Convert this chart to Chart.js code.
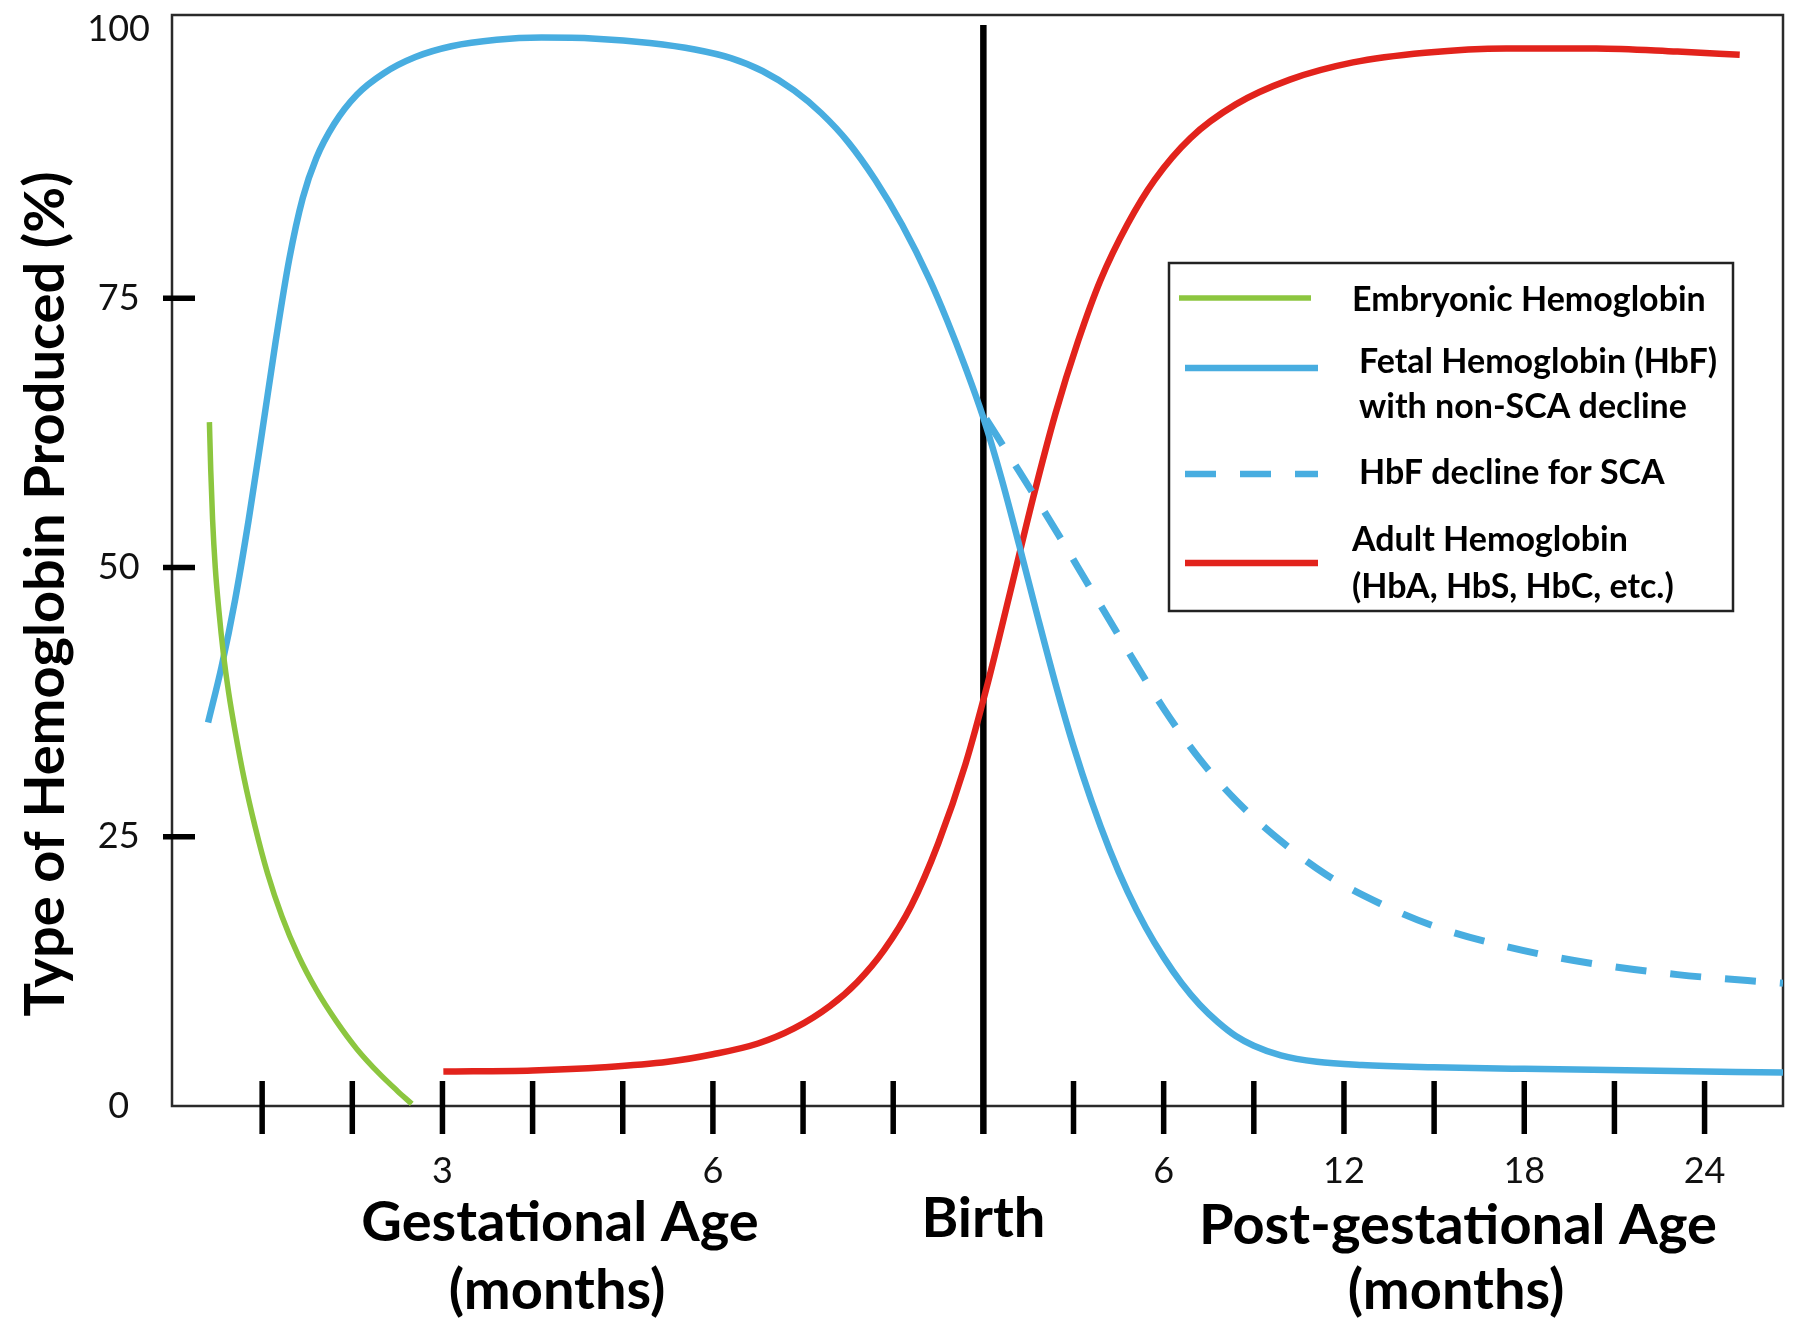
<!DOCTYPE html>
<html>
<head>
<meta charset="utf-8">
<script src="https://cdn.jsdelivr.net/npm/chart.js@4.4.1/dist/chart.umd.min.js"></script>
<style>
  html, body { margin: 0; padding: 0; background: #ffffff; }
  #wrap { position: relative; width: 1800px; height: 1330px; }
</style>
</head>
<body>
<div id="wrap"><canvas id="c" width="1800" height="1330"></canvas></div>
<script>
// Horizontal position on the timeline: 0–9 = gestational months (9 = birth);
// after birth, each unit = 3 months of post-gestational age.
const embryonicPos = [0.415, 0.43, 0.45, 0.48, 0.52, 0.57, 0.63, 0.70, 0.80, 0.92, 1.06, 1.22, 1.40, 1.60, 1.82, 2.05, 2.30, 2.50, 2.66];
const embryonicPct = [63.5, 59.0, 54.5, 50.0, 46.0, 42.0, 38.3, 34.8, 30.4, 26.0, 21.6, 17.6, 14.0, 10.8, 7.9, 5.3, 3.0, 1.4, 0.2];

const fetalPos = [0.40, 0.55, 0.70, 0.85, 1.00, 1.15, 1.30, 1.45, 1.60, 1.80, 2.05, 2.35, 2.70, 3.10, 3.60, 4.10, 4.70, 5.30, 5.80, 6.20, 6.55, 6.90, 7.20, 7.50, 7.80, 8.10, 8.40, 8.60, 8.80, 9.00, 9.20, 9.40, 9.60, 9.80, 10.00, 10.20, 10.40, 10.60, 10.80, 11.00, 11.20, 11.40, 11.60, 11.80, 12.00, 12.30, 12.70, 13.20, 14.00, 15.00, 16.30, 17.87];
const fetalPct = [35.6, 40.8, 47.0, 54.4, 62.6, 71.0, 78.6, 84.3, 88.0, 91.2, 93.9, 95.9, 97.4, 98.4, 99.0, 99.2, 99.1, 98.7, 98.1, 97.3, 96.1, 94.3, 92.2, 89.5, 86.0, 81.8, 76.8, 72.9, 68.6, 63.9, 58.3, 52.0, 45.5, 39.2, 33.4, 28.3, 23.8, 19.9, 16.6, 13.8, 11.4, 9.4, 7.8, 6.5, 5.6, 4.7, 4.1, 3.8, 3.6, 3.45, 3.3, 3.1];

const scaPos = [9.03, 9.40, 9.80, 10.20, 10.60, 11.00, 11.40, 11.80, 12.30, 12.80, 13.40, 14.00, 14.80, 15.70, 16.70, 17.87];
const scaPct = [63.8, 58.9, 53.5, 47.9, 42.3, 36.9, 32.2, 28.4, 24.6, 21.5, 18.8, 16.7, 14.8, 13.3, 12.2, 11.4];

const adultPos = [3.01, 4.00, 4.80, 5.50, 6.00, 6.50, 6.90, 7.30, 7.60, 7.90, 8.20, 8.50, 8.80, 9.05, 9.30, 9.55, 9.80, 10.05, 10.30, 10.60, 10.90, 11.30, 11.80, 12.40, 13.10, 13.90, 14.80, 15.80, 16.70, 17.39];
const adultPct = [3.2, 3.3, 3.6, 4.1, 4.8, 5.8, 7.2, 9.3, 11.5, 14.5, 18.6, 24.4, 31.7, 39.3, 47.8, 56.4, 64.3, 71.0, 76.7, 81.9, 86.0, 89.9, 93.0, 95.3, 96.9, 97.8, 98.2, 98.2, 97.9, 97.6];

const seriesLabels = ['Embryonic Hemoglobin', 'Fetal Hemoglobin (HbF)\nwith non-SCA decline', 'HbF decline for SCA', 'Adult Hemoglobin\n(HbA, HbS, HbC, etc.)'];

const xTickValues = [3, 6, 11, 13, 15, 17];
const xTickLabels = ['3', '6', '6', '12', '18', '24'];
const xTickMarks = [1, 2, 3, 4, 5, 6, 7, 8, 10, 11, 12, 13, 14, 15, 16, 17];
const birthPos = 9;
const yTickValues = [0, 25, 50, 75, 100];
const yTickMarks = [25, 50, 75];

const axisTitleY = 'Type of Hemoglobin Produced (%)';
const gestTitle = ['Gestational Age', '(months)'];
const birthTitle = 'Birth';
const postTitle = ['Post-gestational Age', '(months)'];

const GREEN = '#8cc63f', BLUE = '#48ade0', RED = '#e2231c';

function pts(xs, ys) { return xs.map((v, i) => ({ x: v, y: ys[i] })); }

const decor = {
  id: 'decor',
  beforeDatasetsDraw(chart) {
    const { ctx, chartArea: a, scales: { x, y } } = chart;
    ctx.save();
    ctx.strokeStyle = '#2a2a2a';
    ctx.lineWidth = 2.5;
    ctx.strokeRect(a.left, a.top, a.right - a.left, a.bottom - a.top);
    ctx.strokeStyle = '#000';
    ctx.lineCap = 'butt';
    ctx.lineWidth = 5.5;
    xTickMarks.forEach(v => {
      const px = x.getPixelForValue(v);
      ctx.beginPath(); ctx.moveTo(px, a.bottom - 25); ctx.lineTo(px, a.bottom + 28); ctx.stroke();
    });
    yTickMarks.forEach(v => {
      const py = y.getPixelForValue(v);
      ctx.beginPath(); ctx.moveTo(a.left - 9, py); ctx.lineTo(a.left + 23, py); ctx.stroke();
    });
    const bx = x.getPixelForValue(birthPos);
    ctx.lineWidth = 6.5;
    ctx.beginPath(); ctx.moveTo(bx, a.top + 10); ctx.lineTo(bx, a.bottom + 28); ctx.stroke();
    ctx.restore();
  },
  afterDraw(chart) {
    const { ctx, scales: { x } } = chart;
    ctx.save();
    ctx.fillStyle = '#000';
    // y axis title
    ctx.font = 'bold 56px Lato';
    ctx.textAlign = 'center';
    ctx.textBaseline = 'alphabetic';
    ctx.save();
    ctx.translate(64, 594);
    ctx.rotate(-Math.PI / 2);
    ctx.fillText(axisTitleY, 0, 0);
    ctx.restore();
    // x axis titles
    ctx.font = 'bold 56px Lato';
    ctx.fillText(gestTitle[0], 560, 1241);
    ctx.fillText(gestTitle[1], 557, 1309);
    ctx.fillText(birthTitle, x.getPixelForValue(birthPos), 1237);
    ctx.fillText(postTitle[0], 1458, 1244);
    ctx.fillText(postTitle[1], 1456, 1309);

    // legend
    const box = { l: 1169, t: 263, r: 1733, b: 611 };
    ctx.fillStyle = '#fff';
    ctx.fillRect(box.l, box.t, box.r - box.l, box.b - box.t);
    ctx.strokeStyle = '#222';
    ctx.lineWidth = 2.5;
    ctx.strokeRect(box.l, box.t, box.r - box.l, box.b - box.t);
    const ds = chart.data.datasets;
    const rows = [
      { line: [1179, 1311, 298], text: [1352, [300]] },
      { line: [1185, 1318, 368], text: [1359, [362, 407]] },
      { line: [1185, 1318, 474], text: [1359, [473]] },
      { line: [1185, 1318, 563], text: [1352, [540, 587]] }
    ];
    rows.forEach((r, i) => {
      const d = ds[i];
      ctx.save();
      ctx.strokeStyle = d.borderColor;
      ctx.lineWidth = i === 0 ? 5.5 : 6.5;
      ctx.setLineDash(d.borderDash || []);
      ctx.beginPath(); ctx.moveTo(r.line[0], r.line[2]); ctx.lineTo(r.line[1], r.line[2]); ctx.stroke();
      ctx.restore();
      ctx.fillStyle = '#000';
      ctx.font = 'bold 34px Lato';
      ctx.textAlign = 'left';
      ctx.textBaseline = 'middle';
      const lines = d.label.split('\n');
      lines.forEach((t, j) => ctx.fillText(t, r.text[0], r.text[1][j]));
    });
    ctx.restore();
  }
};

function make() {
  new Chart(document.getElementById('c'), {
    type: 'line',
    data: {
      datasets: [
        { label: seriesLabels[0], data: pts(embryonicPos, embryonicPct), borderColor: GREEN, borderWidth: 5.5 },
        { label: seriesLabels[1], data: pts(fetalPos, fetalPct), borderColor: BLUE, borderWidth: 6.5 },
        { label: seriesLabels[2], data: pts(scaPos, scaPct), borderColor: BLUE, borderWidth: 7, borderDash: [31, 24] },
        { label: seriesLabels[3], data: pts(adultPos, adultPct), borderColor: RED, borderWidth: 6.5 }
      ]
    },
    options: {
      responsive: false,
      animation: false,
      devicePixelRatio: 1,
      layout: { padding: { top: 15, right: 17, left: 0, bottom: 0 } },
      elements: { point: { radius: 0 }, line: { cubicInterpolationMode: 'monotone', borderCapStyle: 'butt', fill: false } },
      plugins: { legend: { display: false }, tooltip: { enabled: false } },
      scales: {
        x: {
          type: 'linear', min: 0, max: 17.87,
          afterBuildTicks: s => { s.ticks = xTickValues.map(v => ({ value: v })); },
          afterFit: s => { s.height = 224; s.paddingLeft = 0; s.paddingRight = 0; },
          grid: { display: false, drawTicks: false },
          border: { display: false },
          ticks: {
            autoSkip: false, maxRotation: 0, padding: 44, color: '#111',
            font: { family: 'Lato', size: 36 },
            callback: (v) => { const i = xTickValues.indexOf(v); return i >= 0 ? xTickLabels[i] : ''; }
          }
        },
        y: {
          min: 0, max: 101.3,
          afterBuildTicks: s => { s.ticks = yTickValues.map(v => ({ value: v })); },
          afterFit: s => { s.width = 172; s.paddingTop = 0; s.paddingBottom = 0; },
          grid: { display: false, drawTicks: false },
          border: { display: false },
          ticks: { padding: 22, crossAlign: 'center', color: '#111', font: { family: 'Lato', size: 36 }, callback: v => String(v) }
        }
      }
    },
    plugins: [decor]
  });
}

if (document.fonts && document.fonts.load) {
  Promise.all([document.fonts.load('bold 56px Lato'), document.fonts.load('36px Lato')]).then(make, make);
} else { make(); }
</script>
</body>
</html>
